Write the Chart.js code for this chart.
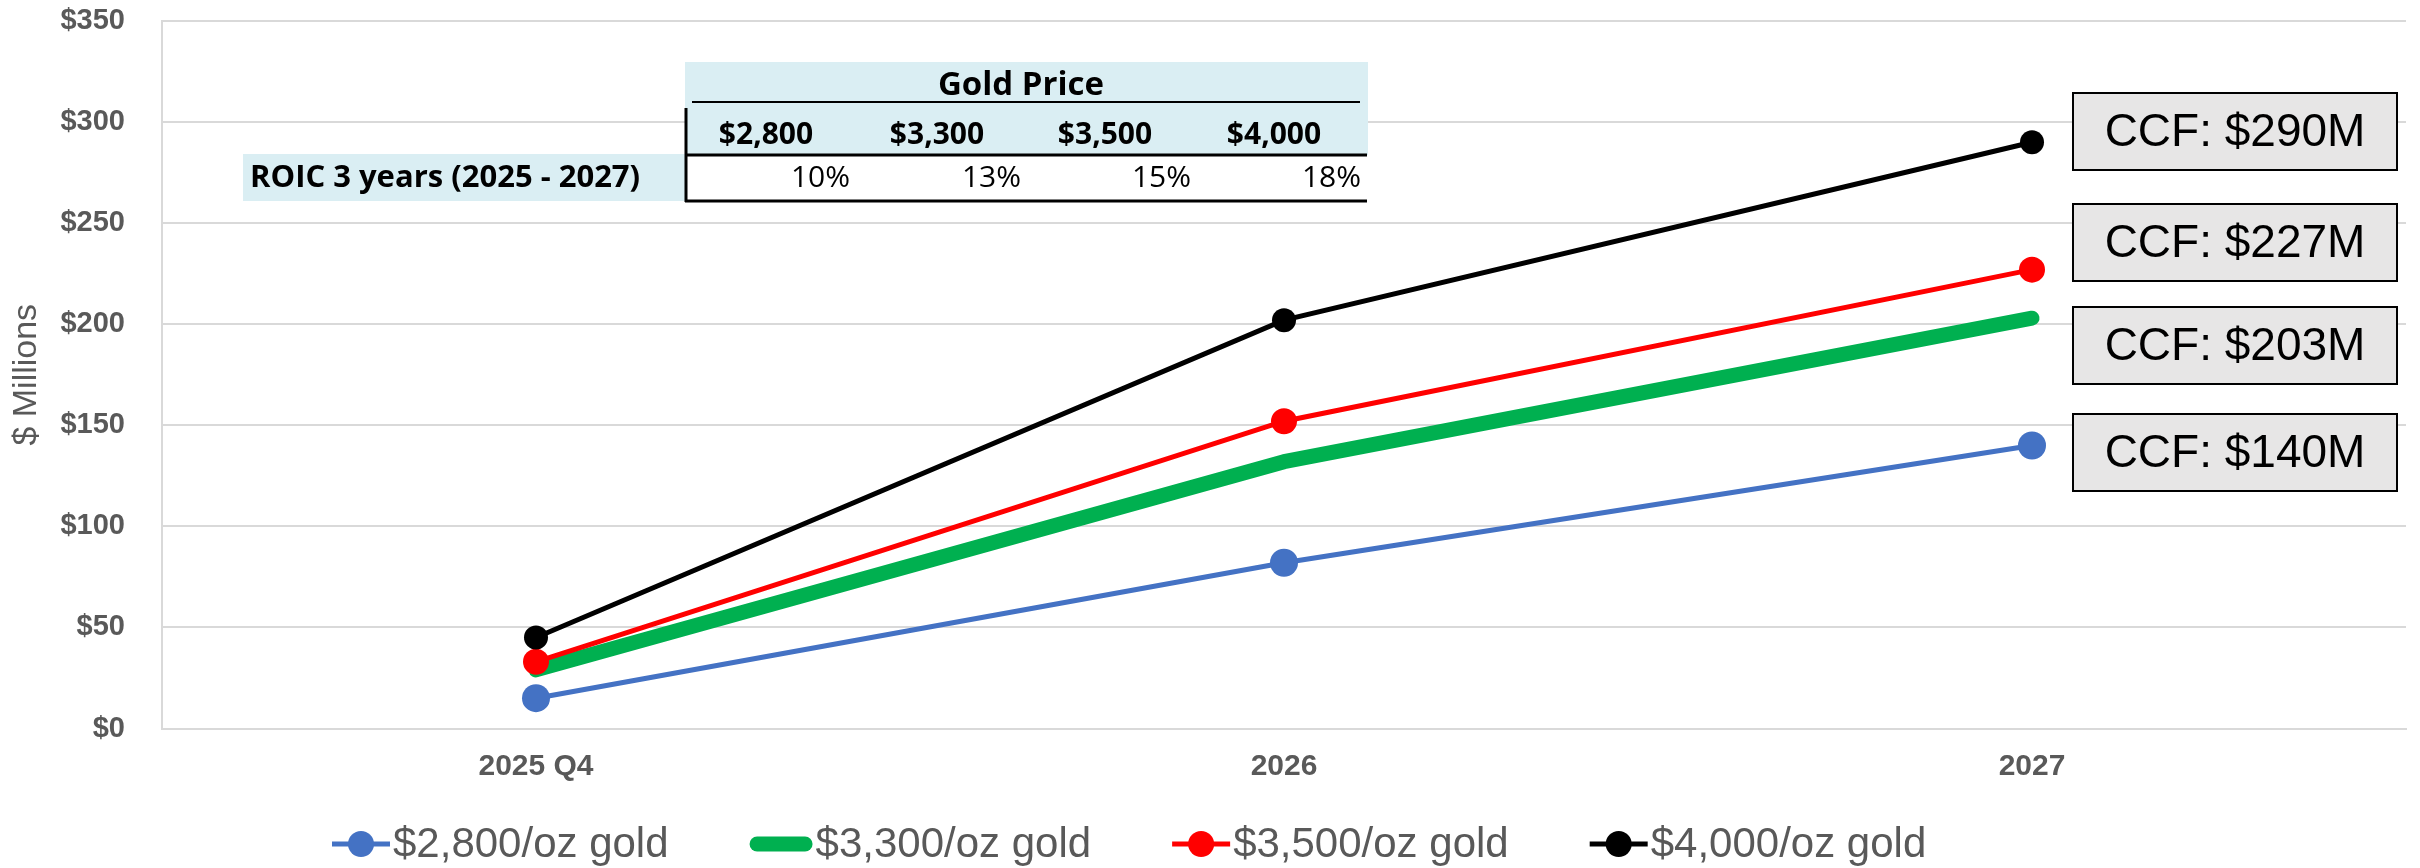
<!DOCTYPE html>
<html>
<head>
<meta charset="utf-8">
<script src="https://cdn.jsdelivr.net/npm/chart.js@4.4.1/dist/chart.umd.min.js"></script>
<style>
  html, body { margin: 0; padding: 0; background: #ffffff; }
  canvas { display: block; }
</style>
</head>
<body>
<canvas id="grafico1" width="2420" height="868"></canvas>
<script>
// datos
const categorias = ['2025 Q4', '2026', '2027'];
const nombresSeries = ['$2,800/oz gold', '$3,300/oz gold', '$3,500/oz gold', '$4,000/oz gold'];
const flujo2800 = [15, 82, 140];
const flujo3300 = [29, 132, 203];
const flujo3500 = [33, 152, 227];
const flujo4000 = [45, 202, 290];
const etiquetasCCF = ['CCF: $290M', 'CCF: $227M', 'CCF: $203M', 'CCF: $140M'];
const preciosOro = ['$2,800', '$3,300', '$3,500', '$4,000'];
const roicValores = ['10%', '13%', '15%', '18%'];
const roicTitulo = 'ROIC 3 years (2025 - 2027)';
const tablaTitulo = 'Gold Price';

const ARIAL = '"Liberation Sans", Arial, sans-serif';
const TABLA = '"Open Sans", "DejaVu Sans", sans-serif';
const GRIS = '#595959';

// tabla de ROIC arriba a la izquierda
const tablaRoic = {
    id: 'tablaRoic',
    afterDraw(chart) {
        const ctx = chart.ctx;
        ctx.save();
        ctx.fillStyle = '#DAEEF3';
        ctx.fillRect(685, 62, 683, 93);
        ctx.fillRect(243, 154, 443, 47);

        ctx.strokeStyle = '#000000';
        ctx.lineWidth = 2;
        ctx.beginPath();
        ctx.moveTo(692, 102); ctx.lineTo(1360, 102);
        ctx.stroke();
        ctx.lineWidth = 3;
        ctx.beginPath();
        ctx.moveTo(686, 108); ctx.lineTo(686, 202);
        ctx.moveTo(685, 155); ctx.lineTo(1367, 155);
        ctx.moveTo(685, 201); ctx.lineTo(1367, 201);
        ctx.stroke();

        ctx.fillStyle = '#000000';
        ctx.textBaseline = 'middle';
        ctx.textAlign = 'center';
        ctx.font = 'bold 33px ' + TABLA;
        ctx.fillText(tablaTitulo, 1021, 86);

        const centros = [766, 937, 1105, 1274];
        ctx.font = 'bold 30px ' + TABLA;
        preciosOro.forEach((p, i) => ctx.fillText(p, centros[i], 135));

        ctx.textAlign = 'left';
        ctx.font = 'bold 31px ' + TABLA;
        ctx.fillText(roicTitulo, 250, 178);

        const derechas = [850, 1021, 1191, 1361];
        ctx.textAlign = 'right';
        ctx.font = '30px ' + TABLA;
        roicValores.forEach((v, i) => ctx.fillText(v, derechas[i], 178));
        ctx.restore();
    }
};

// cajas CCF a la derecha
const cajasCCF = {
    id: 'cajasCCF',
    afterDraw(chart) {
        const ctx = chart.ctx;
        const topes = [93, 204, 307, 414];
        ctx.save();
        ctx.font = '46px ' + ARIAL;
        ctx.textAlign = 'center';
        ctx.textBaseline = 'middle';
        etiquetasCCF.forEach((txt, i) => {
            ctx.fillStyle = '#E7E6E6';
            ctx.fillRect(2073, topes[i], 324, 77);
            ctx.strokeStyle = '#000000';
            ctx.lineWidth = 2;
            ctx.strokeRect(2073, topes[i], 324, 77);
            ctx.fillStyle = '#000000';
            ctx.fillText(txt, 2073 + 162, topes[i] + 40);
        });
        ctx.restore();
    }
};

// leyenda al estilo excel: linea con marcador
const leyendaExcel = {
    id: 'leyendaExcel',
    afterDraw(chart) {
        const ctx = chart.ctx;
        const yCentro = 844;
        let x = 332;
        ctx.save();
        ctx.font = '42px ' + ARIAL;
        ctx.textBaseline = 'alphabetic';
        ctx.textAlign = 'left';
        chart.data.datasets.forEach(ds => {
            const conPunto = ds.pointRadius > 0;
            const largo = conPunto ? 58 : 63;
            ctx.strokeStyle = ds.borderColor;
            ctx.lineWidth = ds.borderWidth;
            ctx.beginPath();
            if (conPunto) {
                ctx.lineCap = 'butt';
                ctx.moveTo(x, yCentro); ctx.lineTo(x + largo, yCentro);
            } else {
                ctx.lineCap = 'round';
                ctx.moveTo(x + ds.borderWidth / 2, yCentro);
                ctx.lineTo(x + largo - ds.borderWidth / 2, yCentro);
            }
            ctx.stroke();
            if (conPunto) {
                ctx.fillStyle = ds.borderColor;
                ctx.beginPath();
                ctx.arc(x + largo / 2, yCentro, 13, 0, Math.PI * 2);
                ctx.fill();
            }
            ctx.fillStyle = GRIS;
            const xTexto = x + largo + 3;
            ctx.fillText(ds.label, xTexto, 857);
            x = xTexto + ctx.measureText(ds.label).width + 81;
        });
        ctx.restore();
    }
};

const graficaOro = new Chart(document.getElementById('grafico1'), {
    type: 'line',
    data: {
        labels: categorias,
        datasets: [
            {
                label: nombresSeries[0], data: flujo2800,
                borderColor: '#4472C4', backgroundColor: '#4472C4',
                borderWidth: 5, pointRadius: 14, pointBorderWidth: 0, order: 4
            },
            {
                label: nombresSeries[1], data: flujo3300,
                borderColor: '#00B050', backgroundColor: '#00B050',
                borderWidth: 15, pointRadius: 0, borderCapStyle: 'round',
                borderJoinStyle: 'round', order: 3
            },
            {
                label: nombresSeries[2], data: flujo3500,
                borderColor: '#FF0000', backgroundColor: '#FF0000',
                borderWidth: 5, pointRadius: 13, pointBorderWidth: 0, order: 2
            },
            {
                label: nombresSeries[3], data: flujo4000,
                borderColor: '#000000', backgroundColor: '#000000',
                borderWidth: 5, pointRadius: 12, pointBorderWidth: 0, order: 1
            }
        ]
    },
    options: {
        responsive: false,
        animation: false,
        devicePixelRatio: 1,
        layout: { padding: { top: 21, right: 11, left: 0, bottom: 0 } },
        plugins: {
            legend: { display: false },
            tooltip: { enabled: false }
        },
        scales: {
            x: {
                offset: true,
                grid: { display: false, drawTicks: false },
                border: { display: true, color: '#D9D9D9', width: 2 },
                ticks: {
                    color: GRIS, padding: 20,
                    font: { family: ARIAL, size: 30, weight: 'bold' }
                },
                afterFit: (escala) => { escala.height = 139.5; }
            },
            y: {
                min: 0, max: 350,
                grid: { color: '#D9D9D9', lineWidth: 2, drawTicks: false },
                border: { display: true, color: '#D9D9D9', width: 2 },
                ticks: {
                    stepSize: 50, padding: 37, color: GRIS,
                    font: { family: ARIAL, size: 29, weight: 'bold' },
                    callback: (v) => '$' + v
                },
                title: {
                    display: true, text: '$ Millions', color: GRIS,
                    font: { family: ARIAL, size: 34 }, padding: { top: 6, bottom: 0 }
                },
                afterFit: (escala) => {
                    escala.width = 162;
                    escala.paddingTop = 0;
                    escala.paddingBottom = 0;
                }
            }
        }
    },
    plugins: [tablaRoic, cajasCCF, leyendaExcel]
});
</script>
</body>
</html>
